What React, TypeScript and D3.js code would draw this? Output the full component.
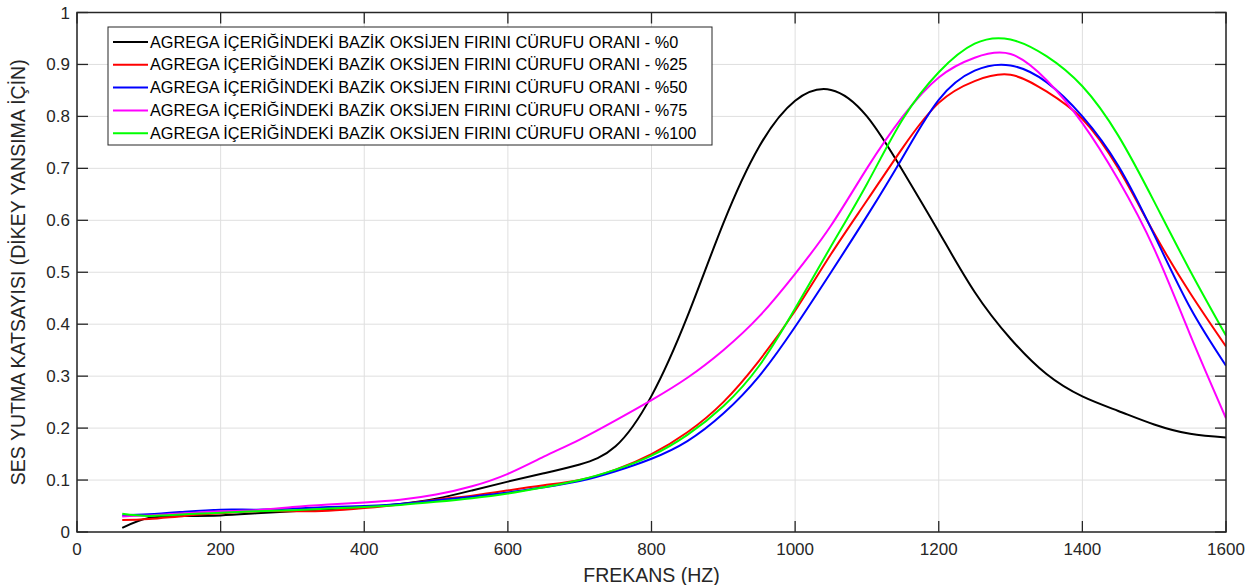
import React from "react";
import * as d3 from "d3";

const freqs = [63, 100, 150, 200, 250, 300, 350, 400, 450, 500, 550, 600, 650, 700, 750, 800, 850, 900, 950, 1000, 1050, 1100, 1150, 1200, 1250, 1300, 1350, 1400, 1450, 1500, 1550, 1600];

const s0 = [0.008, 0.027, 0.031, 0.032, 0.036, 0.040, 0.044, 0.048, 0.054, 0.064, 0.080, 0.097, 0.113, 0.130, 0.165, 0.262, 0.415, 0.594, 0.742, 0.830, 0.851, 0.800, 0.695, 0.578, 0.462, 0.372, 0.304, 0.261, 0.233, 0.207, 0.189, 0.182];
const s25 = [0.023, 0.025, 0.031, 0.036, 0.040, 0.040, 0.041, 0.046, 0.053, 0.062, 0.070, 0.080, 0.090, 0.100, 0.120, 0.150, 0.192, 0.250, 0.330, 0.426, 0.535, 0.638, 0.740, 0.826, 0.868, 0.880, 0.848, 0.795, 0.700, 0.575, 0.460, 0.357];
const s50 = [0.032, 0.034, 0.039, 0.043, 0.043, 0.045, 0.048, 0.050, 0.054, 0.061, 0.068, 0.076, 0.086, 0.098, 0.117, 0.141, 0.175, 0.228, 0.300, 0.395, 0.500, 0.608, 0.722, 0.832, 0.888, 0.898, 0.866, 0.800, 0.705, 0.572, 0.432, 0.320];
const s75 = [0.030, 0.032, 0.036, 0.040, 0.042, 0.048, 0.053, 0.057, 0.062, 0.072, 0.088, 0.112, 0.145, 0.178, 0.215, 0.254, 0.297, 0.350, 0.415, 0.497, 0.590, 0.700, 0.800, 0.875, 0.913, 0.920, 0.870, 0.787, 0.678, 0.545, 0.380, 0.219];
const s100 = [0.035, 0.031, 0.034, 0.037, 0.040, 0.042, 0.045, 0.048, 0.052, 0.058, 0.065, 0.074, 0.086, 0.100, 0.120, 0.147, 0.187, 0.242, 0.320, 0.430, 0.550, 0.670, 0.795, 0.885, 0.940, 0.948, 0.916, 0.858, 0.763, 0.636, 0.503, 0.378];

const seriesNames = [
  "AGREGA İÇERİĞİNDEKİ BAZİK OKSİJEN FIRINI CÜRUFU ORANI - %0",
  "AGREGA İÇERİĞİNDEKİ BAZİK OKSİJEN FIRINI CÜRUFU ORANI - %25",
  "AGREGA İÇERİĞİNDEKİ BAZİK OKSİJEN FIRINI CÜRUFU ORANI - %50",
  "AGREGA İÇERİĞİNDEKİ BAZİK OKSİJEN FIRINI CÜRUFU ORANI - %75",
  "AGREGA İÇERİĞİNDEKİ BAZİK OKSİJEN FIRINI CÜRUFU ORANI - %100",
];
const seriesValues = [s0, s25, s50, s75, s100];
const seriesColors = ["#000000", "#ff0000", "#0000ff", "#ff00ff", "#00ff00"];

const xTicks = [0, 200, 400, 600, 800, 1000, 1200, 1400, 1600];
const yTicks = [0, 0.1, 0.2, 0.3, 0.4, 0.5, 0.6, 0.7, 0.8, 0.9, 1];

const xLabel = "FREKANS (HZ)";
const yLabel = "SES YUTMA KATSAYISI (DİKEY YANSIMA İÇİN)";

export default function App() {
  const W = 1256, H = 585;
  const left = 77, right = 1226, top = 12.5, bottom = 532;
  const x = d3.scaleLinear().domain([0, 1600]).range([left, right]);
  const y = d3.scaleLinear().domain([0, 1]).range([bottom, top]);
  const line = d3
    .line<number>()
    .x((_, i) => x(freqs[i]))
    .y((d) => y(d))
    .curve(d3.curveNatural);
  const axisColor = "#262626";
  const gridColor = "#dfdfdf";
  const font = "'Liberation Sans', Arial, sans-serif";
  const tickLen = 11;
  const legX = 108, legY = 27, legW = 604, legH = 118;
  const rowH = 22.8;

  return (
    <svg width={W} height={H} style={{ position: "absolute", left: 0, top: 0, background: "#fff" }} fontFamily={font}>
      <rect x={0} y={0} width={W} height={H} fill="#fff" />
      <defs>
        <clipPath id="clip">
          <rect x={left} y={top} width={right - left} height={bottom - top} />
        </clipPath>
      </defs>
      {xTicks.map((t) => (
        <line key={"gx" + t} x1={x(t)} x2={x(t)} y1={top} y2={bottom} stroke={gridColor} strokeWidth={1} />
      ))}
      {yTicks.map((t) => (
        <line key={"gy" + t} x1={left} x2={right} y1={y(t)} y2={y(t)} stroke={gridColor} strokeWidth={1} />
      ))}
      <g clipPath="url(#clip)">
        {seriesValues.map((vals, i) => (
          <path key={i} d={line(vals) || ""} fill="none" stroke={seriesColors[i]} strokeWidth={2} strokeLinejoin="round" />
        ))}
      </g>
      <rect x={left} y={top} width={right - left} height={bottom - top} fill="none" stroke={axisColor} strokeWidth={1.5} />
      {xTicks.map((t) => (
        <g key={"tx" + t}>
          <line x1={x(t)} x2={x(t)} y1={bottom} y2={bottom - tickLen} stroke={axisColor} strokeWidth={1.3} />
          <line x1={x(t)} x2={x(t)} y1={top} y2={top + tickLen} stroke={axisColor} strokeWidth={1.3} />
          <text x={x(t)} y={bottom + 23} textAnchor="middle" fontSize={17} fill={axisColor}>
            {t}
          </text>
        </g>
      ))}
      {yTicks.map((t) => (
        <g key={"ty" + t}>
          <line x1={left} x2={left + tickLen} y1={y(t)} y2={y(t)} stroke={axisColor} strokeWidth={1.3} />
          <line x1={right} x2={right - tickLen} y1={y(t)} y2={y(t)} stroke={axisColor} strokeWidth={1.3} />
          <text x={left - 7} y={y(t) + 6} textAnchor="end" fontSize={17} fill={axisColor}>
            {d3.format("~g")(t)}
          </text>
        </g>
      ))}
      <text x={(left + right) / 2} y={582} textAnchor="middle" fontSize={19.5} fill={axisColor}>
        {xLabel}
      </text>
      <text
        transform={`translate(25, ${(top + bottom) / 2}) rotate(-90)`}
        textAnchor="middle"
        fontSize={19.5}
        fill={axisColor}
      >
        {yLabel}
      </text>
      <rect x={legX} y={legY} width={legW} height={legH} fill="#fff" stroke={axisColor} strokeWidth={1} />
      {seriesNames.map((name, i) => {
        const cy = legY + 15 + i * rowH;
        return (
          <g key={"leg" + i}>
            <line x1={legX + 5} x2={legX + 40} y1={cy} y2={cy} stroke={seriesColors[i]} strokeWidth={2} />
            <text x={legX + 42} y={cy + 5.5} fontSize={16.3} fill="#000">
              {name}
            </text>
          </g>
        );
      })}
    </svg>
  );
}
